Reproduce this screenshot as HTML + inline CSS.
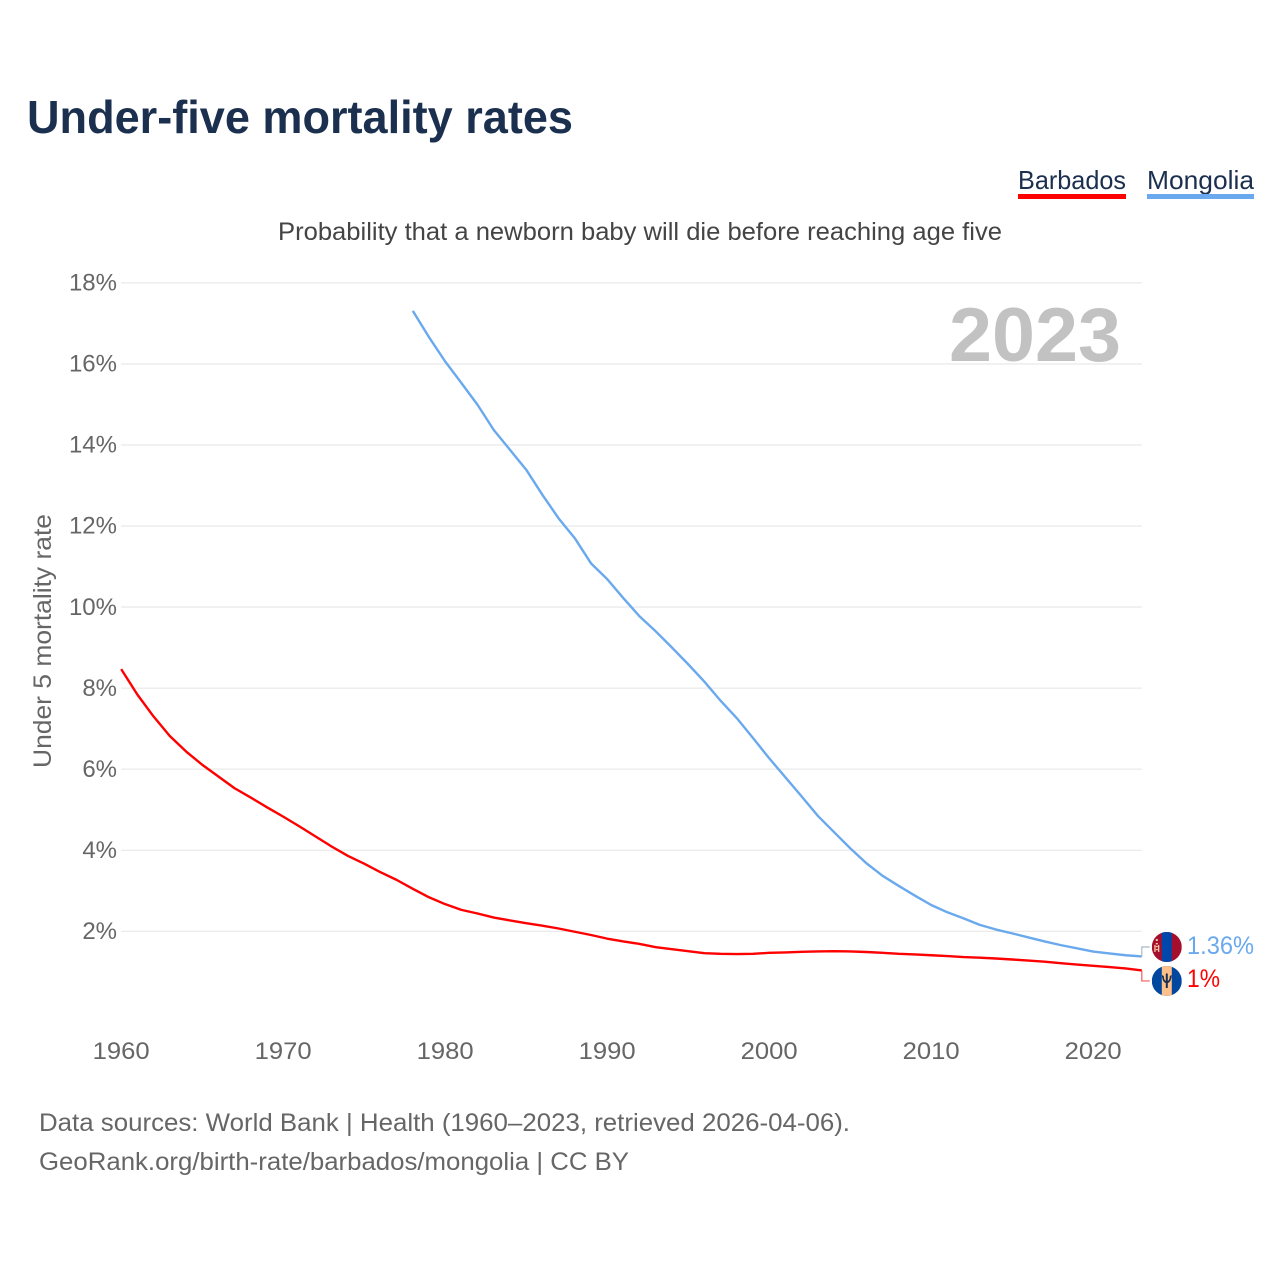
<!DOCTYPE html>
<html lang="en">
<head>
<meta charset="utf-8">
<title>Under-five mortality rates</title>
<style>
html,body{margin:0;padding:0;background:#fff;}
svg{display:block;font-family:"Liberation Sans",sans-serif;}
</style>
</head>
<body>
<svg id="chart" xmlns="http://www.w3.org/2000/svg" width="1280" height="1280" viewBox="0 0 1280 1280">
  <defs>
    <clipPath id="clip-mn"><circle id="clip-mn-circle" r="15"></circle></clipPath>
    <clipPath id="clip-bb"><circle id="clip-bb-circle" r="15"></circle></clipPath>
  </defs>
  <rect width="1280" height="1280" fill="#fff"></rect>
  <text x="27" y="133" font-size="46" font-weight="700" fill="#1b2f4f" textLength="546" lengthAdjust="spacingAndGlyphs">Under-five mortality rates</text>

  <g>
    <text x="1018" y="189" font-size="26" fill="#1b2f4f" textLength="108" lengthAdjust="spacingAndGlyphs">Barbados</text>
    <rect x="1018" y="194" width="108" height="5" fill="#ff0000"></rect>
  </g>
  <g>
    <text x="1147" y="189" font-size="26" fill="#1b2f4f" textLength="107" lengthAdjust="spacingAndGlyphs">Mongolia</text>
    <rect x="1147" y="194" width="107" height="5" fill="#6aa9ee"></rect>
  </g>

  <text x="278" y="240" font-size="25" fill="#444" textLength="724" lengthAdjust="spacingAndGlyphs">Probability that a newborn baby will die before reaching age five</text>
  <text transform="translate(51,768) rotate(-90)" font-size="25" fill="#666" textLength="254" lengthAdjust="spacingAndGlyphs">Under 5 mortality rate</text>

  <g id="grid"></g>
  <g id="y-ticks"></g>
  <g id="x-ticks"></g>

  <text x="949" y="361" font-size="76" font-weight="700" fill="#c2c2c2" textLength="172" lengthAdjust="spacingAndGlyphs">2023</text>

  <g id="series"></g>

  <g id="flag-mn">
    <g clip-path="url(#clip-mn)">
      <rect x="-15" y="-15" width="30" height="30" fill="#a50f2d"></rect>
      <rect x="-5" y="-15" width="10" height="30" fill="#0047ab"></rect>
      <rect x="-11" y="-8" width="2" height="2" fill="#f0c9a0"></rect>
      <rect x="-11" y="-4" width="2" height="1.5" fill="#f0c9a0"></rect>
      <rect x="-12.5" y="-2" width="1.3" height="7" fill="#f0c9a0"></rect>
      <rect x="-8.8" y="-2" width="1.3" height="7" fill="#f0c9a0"></rect>
      <rect x="-11" y="-1" width="2" height="1.2" fill="#f0c9a0"></rect>
      <rect x="-11" y="2" width="2" height="1.2" fill="#f0c9a0"></rect>
    </g>
  </g>
  <g id="flag-bb">
    <g clip-path="url(#clip-bb)">
      <rect x="-15" y="-15" width="30" height="30" fill="#00479f"></rect>
      <rect x="-5" y="-15" width="10" height="30" fill="#fdc08a"></rect>
      <path d="M-5,-6 C-4.5,-1 -3,1.5 -1,2 L-1,7 L1,7 L1,2 C3,1.5 4.5,-1 5,-6 L3,-5 C3,-2 2,-0.5 1,0 L1,-7 L0,-8 L-1,-7 L-1,0 C-2,-0.5 -3,-2 -3,-5 Z" fill="#1b2f4f"></path>
    </g>
  </g>
  <text id="label-mn" x="1187" font-size="25" fill="#6aa9ee" textLength="67" lengthAdjust="spacingAndGlyphs"></text>
  <text id="label-bb" x="1187" font-size="25" fill="#ff0000" textLength="33" lengthAdjust="spacingAndGlyphs"></text>

  <text x="39" y="1131" font-size="25" fill="#666" textLength="811" lengthAdjust="spacingAndGlyphs">Data sources: World Bank | Health (1960–2023, retrieved 2026-04-06).</text>
  <text x="39" y="1170" font-size="25" fill="#666" textLength="590" lengthAdjust="spacingAndGlyphs">GeoRank.org/birth-rate/barbados/mongolia | CC BY</text>
</svg>
<script>
const years = [1960,1961,1962,1963,1964,1965,1966,1967,1968,1969,1970,1971,1972,1973,1974,1975,1976,1977,1978,1979,1980,1981,1982,1983,1984,1985,1986,1987,1988,1989,1990,1991,1992,1993,1994,1995,1996,1997,1998,1999,2000,2001,2002,2003,2004,2005,2006,2007,2008,2009,2010,2011,2012,2013,2014,2015,2016,2017,2018,2019,2020,2021,2022,2023];
const barbados = [8.47,7.84,7.30,6.82,6.44,6.11,5.82,5.53,5.30,5.06,4.83,4.59,4.34,4.09,3.86,3.67,3.46,3.27,3.05,2.84,2.67,2.53,2.44,2.34,2.27,2.20,2.14,2.07,1.99,1.91,1.82,1.75,1.69,1.61,1.56,1.51,1.46,1.445,1.44,1.445,1.47,1.48,1.495,1.505,1.51,1.505,1.49,1.47,1.445,1.43,1.41,1.39,1.365,1.35,1.33,1.305,1.28,1.25,1.215,1.18,1.15,1.12,1.085,1.035];
const mongolia = [null,null,null,null,null,null,null,null,null,null,null,null,null,null,null,null,null,null,17.31,16.66,16.06,15.53,14.99,14.37,13.88,13.39,12.77,12.19,11.70,11.08,10.69,10.22,9.77,9.40,9.00,8.59,8.16,7.69,7.26,6.77,6.27,5.80,5.33,4.85,4.45,4.05,3.68,3.37,3.12,2.88,2.65,2.47,2.32,2.16,2.045,1.95,1.85,1.75,1.66,1.58,1.50,1.455,1.41,1.38];
const yTickValues = [2,4,6,8,10,12,14,16,18];
const yTickLabels = ['2%','4%','6%','8%','10%','12%','14%','16%','18%'];
const xTickValues = [1960,1970,1980,1990,2000,2010,2020];
const xTickLabels = ['1960','1970','1980','1990','2000','2010','2020'];
const endLabelBarbados = '1%';
const endLabelMongolia = '1.36%';

const NS = 'http://www.w3.org/2000/svg';
function xScale(year){ return 121.2 + (year - 1960) * 16.2; }
function yScale(value){ return 1012.4 - value * 40.53; }

const grid = document.getElementById('grid');
const yTicks = document.getElementById('y-ticks');
const xTicks = document.getElementById('x-ticks');
const seriesGroup = document.getElementById('series');

yTickValues.forEach(function(v, i){
  const line = document.createElementNS(NS, 'line');
  
  
  line.setAttribute('x1', xScale(1960));
  line.setAttribute('x2', xScale(2023));
  line.setAttribute('y1', yScale(v));
  line.setAttribute('y2', yScale(v));
  line.setAttribute('stroke', '#ebebeb');
  line.setAttribute('stroke-width', '1.4');
  grid.appendChild(line);
  const label = document.createElementNS(NS, 'text');
  
  
  label.setAttribute('x', 117);
  label.setAttribute('y', yScale(v) + 7.7);
  label.setAttribute('text-anchor', 'end');
  label.setAttribute('font-size', '24');
  label.setAttribute('fill', '#666');
  label.textContent = yTickLabels[i];
  yTicks.appendChild(label);
});

xTickValues.forEach(function(v, i){
  const label = document.createElementNS(NS, 'text');
  
  
  label.setAttribute('x', xScale(v));
  label.setAttribute('y', 1059);
  label.setAttribute('text-anchor', 'middle');
  label.setAttribute('font-size', '24.5');
  label.setAttribute('fill', '#666');
  label.setAttribute('textLength', '57');
  label.setAttribute('lengthAdjust', 'spacingAndGlyphs');
  label.textContent = xTickLabels[i];
  xTicks.appendChild(label);
});

function linePoints(values){
  const pts = [];
  values.forEach(function(v, i){
    if (v !== null) pts.push(xScale(years[i]).toFixed(2) + ',' + yScale(v).toFixed(2));
  });
  return pts.join(' ');
}

const lineMongolia = document.createElementNS(NS, 'polyline');


lineMongolia.setAttribute('points', linePoints(mongolia));
lineMongolia.setAttribute('fill', 'none');
lineMongolia.setAttribute('stroke', '#6aa9ee');
lineMongolia.setAttribute('stroke-width', '2.4');
lineMongolia.setAttribute('stroke-linejoin', 'round');
seriesGroup.appendChild(lineMongolia);

const lineBarbados = document.createElementNS(NS, 'polyline');


lineBarbados.setAttribute('points', linePoints(barbados));
lineBarbados.setAttribute('fill', 'none');
lineBarbados.setAttribute('stroke', '#ff0000');
lineBarbados.setAttribute('stroke-width', '2.4');
lineBarbados.setAttribute('stroke-linejoin', 'round');
seriesGroup.appendChild(lineBarbados);

const lastYear = years[years.length - 1];
const endX = xScale(lastYear);
const endMongoliaY = yScale(mongolia[mongolia.length - 1]);
const endBarbadosY = yScale(barbados[barbados.length - 1]);
const anchorMongoliaY = endMongoliaY - 9.5;
const anchorBarbadosY = endBarbadosY + 10.5;

const connectorMongolia = document.createElementNS(NS, 'polyline');


connectorMongolia.setAttribute('points', endX + ',' + endMongoliaY + ' ' + endX + ',' + anchorMongoliaY + ' ' + (endX + 8) + ',' + anchorMongoliaY);
connectorMongolia.setAttribute('fill', 'none');
connectorMongolia.setAttribute('stroke', '#a9b9c9');
connectorMongolia.setAttribute('stroke-width', '1.2');
seriesGroup.appendChild(connectorMongolia);

const connectorBarbados = document.createElementNS(NS, 'polyline');


connectorBarbados.setAttribute('points', endX + ',' + endBarbadosY + ' ' + endX + ',' + anchorBarbadosY + ' ' + (endX + 8) + ',' + anchorBarbadosY);
connectorBarbados.setAttribute('fill', 'none');
connectorBarbados.setAttribute('stroke', '#f25c5c');
connectorBarbados.setAttribute('stroke-width', '1.2');
seriesGroup.appendChild(connectorBarbados);

const flagX = endX + 25;
document.getElementById('flag-mn').setAttribute('transform', 'translate(' + flagX + ',' + anchorMongoliaY + ')');
document.getElementById('flag-bb').setAttribute('transform', 'translate(' + flagX + ',' + anchorBarbadosY + ')');

const labelMn = document.getElementById('label-mn');
labelMn.setAttribute('y', anchorMongoliaY + 7);
labelMn.textContent = endLabelMongolia;
const labelBb = document.getElementById('label-bb');
labelBb.setAttribute('y', anchorBarbadosY + 6);
labelBb.textContent = endLabelBarbados;
</script>
</body>
</html>
